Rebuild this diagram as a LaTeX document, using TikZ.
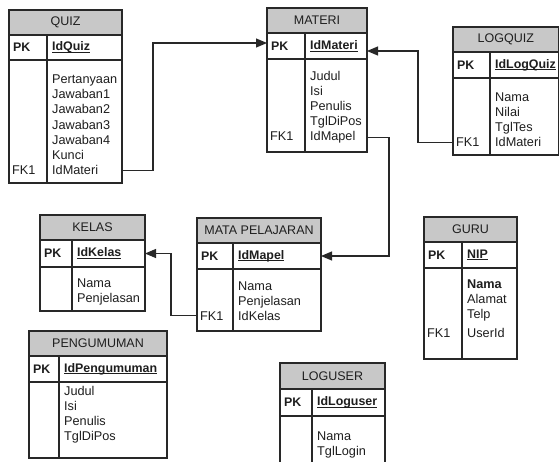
\documentclass[tikz,border=0pt]{standalone}
\usepackage{fontspec}
\setmainfont{Liberation Sans}
\usetikzlibrary{arrows.meta}
\definecolor{hdrgray}{RGB}{200,200,200}
\definecolor{linegray}{RGB}{40,40,40}
\definecolor{txtgray}{RGB}{30,30,30}
\newcommand\myul[1]{\setbox0\hbox{#1}\rlap{\rule[-2pt]{\wd0}{0.8pt}}\box0}
\tikzset{
  frame/.style={draw=linegray, line width=1.1pt},
  cell/.style={frame, fill=white, anchor=north west, inner sep=0pt, outer sep=0pt},
  hdrcell/.style={cell, fill=hdrgray, text=txtgray},
  fieldtxt/.style={inner sep=0pt, text=txtgray, font=\fontsize{12.7}{15.2}\selectfont},
  keytxt/.style={fieldtxt, font=\fontsize{12.4}{15.2}\selectfont\bfseries},
  conn/.style={draw=linegray, line width=1.1pt, -{Triangle[length=11pt,width=9pt]}},
}
% name, title, x1, x2, top, header bottom, pk bottom, bottom, divider
\newcommand\ertable[9]{%
  \node[hdrcell, font=\fontsize{12.5}{15}\selectfont, minimum width={(#4-#3)*1pt}, minimum height={(#6-#5)*1pt}] (#1) at (#3,#5) {#2};
  \node[cell, minimum width={(#4-#3)*1pt}, minimum height={(#7-#6)*1pt}] (#1-pk) at (#3,#6) {};
  \node[cell, minimum width={(#4-#3)*1pt}, minimum height={(#8-#7)*1pt}] (#1-body) at (#3,#7) {};
  \draw[frame] (#9,#6) -- (#9,#8);
  \coordinate (#1-dv) at (#9,#6);
}
% name, pk field
\newcommand\pkrow[2]{%
  \node[keytxt, anchor=west] (#1-pkl) at ([xshift=4pt]#1-pk.west) {PK};
  \node[keytxt, anchor=west] (#1-pkf) at ([xshift=5pt]#1-pk.west -| #1-dv) {\myul{#2}};
}
% name, first baseline, list
\newcommand\fields[3]{%
  \foreach \t [count=\i] in {#3} {
    \node[fieldtxt, anchor=base west] (#1-f\i) at ([xshift=5pt]#1-dv |- 0,{#2+(\i-1)*15.2}) {\t};
  }
}
% name, baseline
\newcommand\fkone[2]{%
  \node[fieldtxt, anchor=base west] (#1-fk) at ([xshift=3pt]#1-body.west |- 0,#2) {FK1};
}
\begin{document}
\begin{tikzpicture}[x=1pt, y=-1pt]
\fill[white] (0,0) rectangle (560,461);
\clip (0,0) rectangle (560,461);

\ertable{quiz}{QUIZ}{9}{122}{10}{35}{60}{183}{47}
\pkrow{quiz}{IdQuiz}
\fields{quiz}{83.5}{Pertanyaan,Jawaban1,Jawaban2,Jawaban3,Jawaban4,Kunci,IdMateri}
\fkone{quiz}{174.7}

\ertable{materi}{MATERI}{267}{367}{8}{33}{59}{152}{305}
\pkrow{materi}{IdMateri}
\fields{materi}{80}{Judul,Isi,Penulis,TglDiPos,IdMapel}
\fkone{materi}{140.8}

\ertable{logquiz}{LOGQUIZ}{453}{558.5}{27}{52}{78}{155}{490}
\pkrow{logquiz}{IdLogQuiz}
\fields{logquiz}{101}{Nama,Nilai,TglTes,IdMateri}
\fkone{logquiz}{146.6}

\ertable{mapel}{MATA PELAJARAN}{197}{321}{218}{243}{269}{331}{233}
\pkrow{mapel}{IdMapel}
\fields{mapel}{290}{Nama,Penjelasan,IdKelas}
\fkone{mapel}{320.4}

\ertable{kelas}{KELAS}{40}{145}{215}{240}{267}{311}{72}
\pkrow{kelas}{IdKelas}
\fields{kelas}{287}{Nama,Penjelasan}

\ertable{peng}{PENGUMUMAN}{29}{167}{331}{356}{382}{458}{59}
\pkrow{peng}{IdPengumuman}
\fields{peng}{395}{Judul,Isi,Penulis,TglDiPos}

\ertable{guru}{GURU}{424}{517}{217}{242}{268}{359}{462}
\pkrow{guru}{NIP}
\fields{guru}{288}{\textbf{Nama},Alamat,Telp}
\node[fieldtxt, anchor=base west] (guru-f4) at ([xshift=5pt]guru-dv |- 0,337) {UserId};
\fkone{guru}{337}

\ertable{loguser}{LOGUSER}{280}{385}{363}{389}{416}{475}{312}
\pkrow{loguser}{IdLoguser}
\fields{loguser}{440}{Nama,TglLogin}

% connectors
\draw[conn] (quiz-body.east |- quiz-f7) -- ++(31,0) |- ([yshift=3pt]materi-pk.west);
\draw[conn] (logquiz-body.west |- logquiz-f4) -- ++(-35,0) |- ([yshift=-5pt]materi-pk.east);
\draw[conn] (materi-body.east |- materi-f5) -- ++(22,0) |- (mapel-pk.east);
\draw[conn] (mapel-body.west |- mapel-f3) -- ++(-26,0) |- (kelas-pk.east);
\end{tikzpicture}
\end{document}
